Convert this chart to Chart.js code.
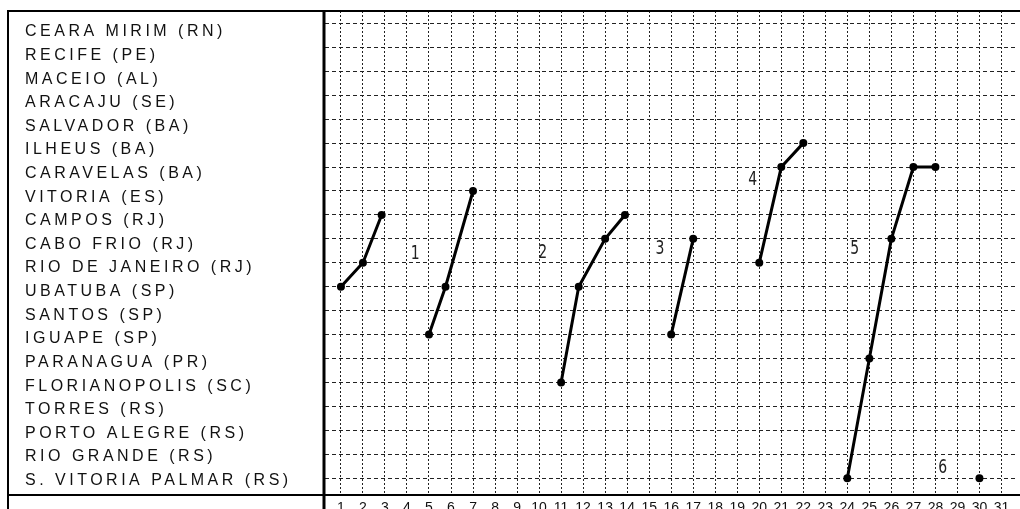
<!DOCTYPE html>
<html>
<head>
<meta charset="utf-8">
<script src="https://cdn.jsdelivr.net/npm/chart.js@4/dist/chart.umd.min.js"></script>
<style>
  html, body { margin: 0; padding: 0; background: #fff; }
  canvas { display: block; }
</style>
</head>
<body>
<canvas id="chart" width="1020" height="509"></canvas>
<script>
const cities = [
  "CEARA MIRIM (RN)",
  "RECIFE (PE)",
  "MACEIO (AL)",
  "ARACAJU (SE)",
  "SALVADOR (BA)",
  "ILHEUS (BA)",
  "CARAVELAS (BA)",
  "VITORIA (ES)",
  "CAMPOS (RJ)",
  "CABO FRIO (RJ)",
  "RIO DE JANEIRO (RJ)",
  "UBATUBA (SP)",
  "SANTOS (SP)",
  "IGUAPE (SP)",
  "PARANAGUA (PR)",
  "FLORIANOPOLIS (SC)",
  "TORRES (RS)",
  "PORTO ALEGRE (RS)",
  "RIO GRANDE (RS)",
  "S. VITORIA PALMAR (RS)",
];

const days = Array.from({ length: 31 }, (_, i) => i + 1);

// each front: days and stations
const frontADays = [1, 2, 2.85];
const frontAStations = ["UBATUBA (SP)", "RIO DE JANEIRO (RJ)", "CAMPOS (RJ)"];
const frontBDays = [5, 5.75, 7];
const frontBStations = ["IGUAPE (SP)", "UBATUBA (SP)", "VITORIA (ES)"];
const frontCDays = [11, 11.8, 13, 13.9];
const frontCStations = ["FLORIANOPOLIS (SC)", "UBATUBA (SP)", "CABO FRIO (RJ)", "CAMPOS (RJ)"];
const frontDDays = [16, 17];
const frontDStations = ["IGUAPE (SP)", "CABO FRIO (RJ)"];
const frontEDays = [20, 21, 22];
const frontEStations = ["RIO DE JANEIRO (RJ)", "CARAVELAS (BA)", "ILHEUS (BA)"];
const frontFDays = [24, 25, 26, 27, 28];
const frontFStations = ["S. VITORIA PALMAR (RS)", "PARANAGUA (PR)", "CABO FRIO (RJ)", "CARAVELAS (BA)", "CARAVELAS (BA)"];
const frontGDays = [30];
const frontGStations = ["S. VITORIA PALMAR (RS)"];

// numbered notes written on the grid
const noteTexts = ["1", "2", "3", "4", "5", "6"];
const noteDays = [4.37, 10.16, 15.49, 19.7, 24.34, 28.33];
const noteRows = [9.62, 9.58, 9.42, 6.54, 9.43, 18.55];

const fronts = [
  [frontADays, frontAStations],
  [frontBDays, frontBStations],
  [frontCDays, frontCStations],
  [frontDDays, frontDStations],
  [frontEDays, frontEStations],
  [frontFDays, frontFStations],
  [frontGDays, frontGStations],
];

function toPoints(dayList, stationList) {
  return dayList.map((day, i) => ({ x: day, y: cities.indexOf(stationList[i]) }));
}

const labelFont = { family: "'Liberation Sans', Arial, sans-serif", size: 16 };

const framePlugin = {
  id: "frame",
  beforeDraw(chart) {
    // station names are drawn widely spaced
    chart.ctx.letterSpacing = "3.5px";
  },
  beforeDatasetsDraw(chart) {
    chart.ctx.letterSpacing = "0px";
  },
  afterDatasetsDraw(chart) {
    const { ctx, scales } = chart;
    ctx.save();
    ctx.font = "20px 'DejaVu Sans', sans-serif";
    ctx.fillStyle = "#222";
    ctx.textAlign = "center";
    ctx.textBaseline = "middle";
    noteTexts.forEach((text, i) => {
      ctx.save();
      ctx.translate(scales.x.getPixelForValue(noteDays[i]), scales.y.getPixelForValue(noteRows[i]));
      ctx.scale(0.7, 1);
      ctx.fillText(text, 0, 0);
      ctx.restore();
    });
    ctx.restore();
  },
  afterDraw(chart) {
    const { ctx, chartArea: area, width, height } = chart;
    ctx.save();
    ctx.strokeStyle = "#000";
    ctx.lineWidth = 2;
    ctx.beginPath();
    ctx.moveTo(8, height);
    ctx.lineTo(8, area.top);
    ctx.lineTo(width, area.top);
    ctx.stroke();
    ctx.beginPath();
    ctx.moveTo(8, area.bottom + 1);
    ctx.lineTo(width, area.bottom + 1);
    ctx.stroke();
    ctx.lineWidth = 3;
    ctx.beginPath();
    ctx.moveTo(area.left - 1, area.top);
    ctx.lineTo(area.left - 1, height);
    ctx.stroke();
    ctx.restore();
  },
};

new Chart(document.getElementById("chart"), {
  type: "line",
  data: {
    datasets: fronts.map(([dayList, stationList]) => ({
      data: toPoints(dayList, stationList),
      borderColor: "#000",
      backgroundColor: "#000",
      borderWidth: 3,
      pointRadius: 4,
      pointBackgroundColor: "#000",
      pointBorderWidth: 0,
      fill: false,
      tension: 0,
    })),
  },
  options: {
    responsive: false,
    animation: false,
    layout: { padding: { left: 25, top: 11, right: 0, bottom: 0 } },
    plugins: {
      legend: { display: false },
      tooltip: { enabled: false },
    },
    scales: {
      x: {
        type: "linear",
        position: "bottom",
        min: 0.277,
        max: 31.66,
        afterBuildTicks: (scale) => {
          scale.ticks = days.map((d) => ({ value: d }));
        },
        afterFit: (scale) => {
          scale.height = 15;
        },
        grid: { color: "#222", lineWidth: 1, drawTicks: false },
        border: { display: false, dash: [2, 2] },
        ticks: {
          z: 1,
          autoSkip: false,
          maxRotation: 0,
          padding: 6,
          color: "#111",
          font: { family: "'Liberation Sans', Arial, sans-serif", size: 14 },
        },
      },
      y: {
        type: "linear",
        position: "left",
        reverse: true,
        min: -0.52,
        max: 19.66,
        afterBuildTicks: (scale) => {
          scale.ticks = cities.map((_, i) => ({ value: i }));
        },
        afterFit: (scale) => {
          scale.width = 0;
        },
        grid: { color: "#222", lineWidth: 1, drawTicks: false },
        border: { display: false, dash: [4, 3] },
        ticks: { display: false },
      },
      names: {
        type: "linear",
        position: "left",
        reverse: true,
        min: -0.89,
        max: 19.57,
        afterBuildTicks: (scale) => {
          scale.ticks = cities.map((_, i) => ({ value: i }));
        },
        afterFit: (scale) => {
          scale.width = 300;
        },
        grid: { display: false, drawTicks: false },
        border: { display: false },
        ticks: {
          autoSkip: false,
          crossAlign: "far",
          padding: 0,
          color: "#111",
          font: labelFont,
          callback: (value) => cities[value],
        },
      },
    },
  },
  plugins: [framePlugin],
});
</script>
</body>
</html>
